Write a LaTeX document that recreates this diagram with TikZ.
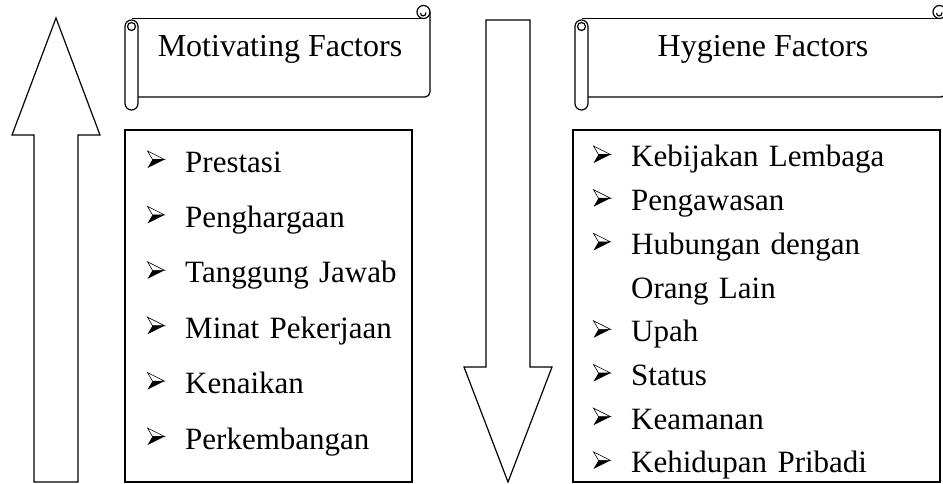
\documentclass[tikz,border=0pt]{standalone}
\usepackage{fontspec}
\setmainfont{Liberation Serif}
\usetikzlibrary{positioning}

% arrowhead bullet in front of every factor
\newcommand{\bul}{\makebox[38pt][l]{\tikz[x=1pt, y=1pt, baseline=-4pt]{%
  \draw[line width=0.6pt, line join=miter] (0,17) -- (17,8.5) -- (5,8.5) -- cycle;
  \fill (5,8.5) -- (17,8.5) -- (0,0) -- cycle;}}}

% scroll banner between left x (#1) and right x (#2)
\newcommand{\scrollbanner}[2]{%
  \draw[inkline] (#1+6.5,18.5) -- (#2-6.5,18.5);
  \draw[inkline] (#2-6.5,12) circle (6.5);
  \draw[inkline] (#2-9.5,13) .. controls (#2-9.5,17) and (#2-4,17) .. (#2-4,12.5);
  \draw[inkline, rounded corners=5pt] (#2,12) -- (#2,97) -- (#1+13,97);
  \draw[inkline, fill=white, rounded corners=6.5pt] (#1,20) rectangle (#1+13,110);
  \draw[inkline] (#1+6.5,26.5) circle (4);
}

\begin{document}
\begin{tikzpicture}[x=1pt, y=-1pt,
  inkline/.style={draw=black, line width=1.2pt},
  head/.style={font=\fontsize{32}{36}\selectfont, inner sep=0pt, anchor=base},
  item/.style={font=\fontsize{31}{36}\selectfont, inner sep=0pt,
               text height=23pt, text depth=7pt, align=left},
  litem/.style={item, text width=260pt},
  ritem/.style={item, text width=340pt}
]
  \useasboundingbox (0,0) rectangle (943,484);
  \clip (0,0) rectangle (943,484);
  \fill[white] (0,0) rectangle (943,484);

  % rising and falling arrows
  \draw[inkline] (56,18) -- (100,135) -- (78,135) -- (78,482) -- (34,482)
    -- (34,135) -- (12,135) -- cycle;
  \draw[inkline] (486,20) -- (530,20) -- (530,367) -- (552,367) -- (508,482)
    -- (464,367) -- (486,367) -- cycle;

  % banners
  \scrollbanner{125}{430}
  \scrollbanner{575}{946}
  \node[head] (mot) at (280,57) {Motivating Factors};
  \node[head] (hyg) at (763,57) {Hygiene Factors};

  % list frames
  \draw[inkline] (125,130) rectangle (412,482);
  \draw[inkline] (573,130) rectangle (940,482);

  \begin{scope}[node distance=25pt]
    \node[litem, anchor=base west] (m1) at (147,172) {\bul Prestasi};
    \node[litem, below=of m1] (m2) {\bul Penghargaan};
    \node[litem, below=of m2] (m3) {\bul Tanggung Jawab};
    \node[litem, below=of m3] (m4) {\bul Minat Pekerjaan};
    \node[litem, below=of m4] (m5) {\bul Kenaikan};
    \node[litem, below=of m5] (m6) {\bul Perkembangan};
  \end{scope}

  \begin{scope}[node distance=13.3pt]
    \node[ritem, anchor=base west] (h1) at (593,167) {\bul Kebijakan Lembaga};
    \node[ritem, below=of h1] (h2) {\bul Pengawasan};
    \node[ritem, below=of h2] (h3) {\bul Hubungan dengan};
    \node[ritem, below=of h3] (h3b) {\hspace*{38pt}Orang Lain};
    \node[ritem, below=of h3b] (h4) {\bul Upah};
    \node[ritem, below=of h4] (h5) {\bul Status};
    \node[ritem, below=of h5] (h6) {\bul Keamanan};
    \node[ritem, below=of h6] (h7) {\bul Kehidupan Pribadi};
  \end{scope}
\end{tikzpicture}
\end{document}
